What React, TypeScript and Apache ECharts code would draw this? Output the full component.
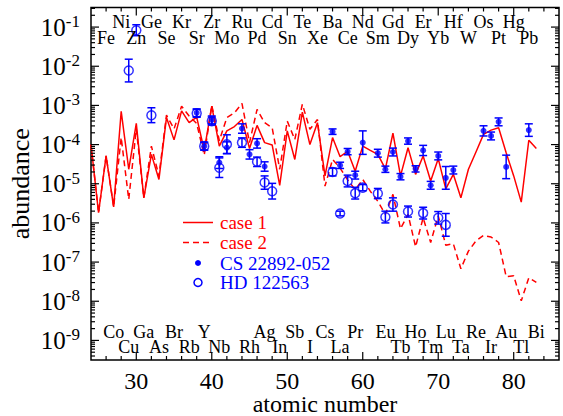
import React, { useEffect, useRef } from "react";
import * as echarts from "echarts";

// ---------- data (log10 of abundance) ----------
const modelZ = [24,25,26,27,28,29,30,31,32,33,34,35,36,37,38,39,40,41,42,43,44,45,46,47,48,49,50,51,52,53,54,55,56,57,58,59,60,61,62,63,64,65,66,67,68,69,70,71,72,73,74,75,76,77,78,79,80,81,82,83];
const case1Log = [-4.00,-5.74,-4.29,-5.59,-3.15,-4.63,-3.46,-5.36,-4.25,-4.89,-3.31,-3.88,-3.14,-3.44,-3.30,-4.15,-3.02,-4.04,-3.65,-3.54,-3.36,-4.10,-3.51,-3.95,-4.01,-5.04,-3.65,-4.38,-3.17,-4.00,-3.44,-4.80,-3.82,-4.31,-4.17,-4.68,-4.04,-4.15,-4.25,-4.62,-3.71,-4.80,-4.08,-4.76,-4.29,-4.93,-4.36,-5.13,-4.76,-5.36,-4.63,-4.19,-3.74,-3.63,-3.57,-4.21,-4.80,-5.47,-3.89,-4.10];
const case2Log = [-4.00,-5.74,-4.29,-5.59,-3.82,-5.40,-3.60,-5.36,-4.04,-4.80,-3.25,-3.60,-3.02,-3.27,-3.46,-4.27,-3.00,-3.90,-3.31,-3.19,-2.95,-3.95,-3.10,-3.44,-3.57,-4.63,-3.40,-3.87,-2.97,-3.61,-3.36,-5.06,-4.38,-4.60,-4.90,-5.15,-4.89,-5.19,-5.45,-5.78,-5.27,-6.15,-5.78,-6.61,-5.87,-6.50,-5.82,-6.57,-6.53,-7.17,-6.72,-6.46,-6.32,-6.36,-6.50,-7.37,-7.35,-7.99,-7.40,-7.52];

const csZ = [38,39,40,41,42,44,45,46,47,56,57,58,59,60,62,63,64,65,66,67,68,69,70,71,72,76,77,78,79,82];
const csLog = [-3.19,-4.04,-3.37,-4.46,-4.08,-3.59,-4.25,-3.97,-4.56,-3.67,-4.53,-4.18,-4.78,-3.95,-4.22,-4.63,-4.19,-4.82,-3.91,-4.62,-4.15,-5.04,-4.29,-4.85,-4.65,-3.65,-3.78,-3.42,-4.57,-3.63];
const csErr = [0.10,0.10,0.10,0.15,0.15,0.12,0.12,0.12,0.12,0.07,0.08,0.08,0.10,0.30,0.10,0.08,0.10,0.08,0.08,0.08,0.13,0.10,0.10,0.29,0.10,0.13,0.10,0.10,0.30,0.16];

const hdZ = [29,30,32,38,39,40,41,42,44,46,47,48,56,57,58,59,60,62,63,64,66,68,70,71];
const hdLog = [-2.11,-1.08,-3.25,-3.20,-4.04,-3.40,-4.59,-3.99,-3.95,-4.44,-4.97,-5.19,-4.70,-5.76,-4.93,-5.24,-5.10,-5.25,-5.85,-5.53,-5.71,-5.75,-5.87,-6.05];
const hdErr = [0.29,0.14,0.19,0.10,0.10,0.10,0.25,0.24,0.12,0.12,0.17,0.20,0.10,0.06,0.15,0.15,0.08,0.13,0.15,0.17,0.14,0.15,0.16,0.29];

// element labels
const topRow1 = ["Ni","Ge","Kr","Zr","Ru","Cd","Te","Ba","Nd","Gd","Er","Hf","Os","Hg"];
const topRow1Z = [28,32,36,40,44,48,52,56,60,64,68,72,76,80];
const topRow2 = ["Fe","Zn","Se","Sr","Mo","Pd","Sn","Xe","Ce","Sm","Dy","Yb","W","Pt","Pb"];
const topRow2Z = [26,30,34,38,42,46,50,54,58,62,66,70,74,78,82];
const botRow1 = ["Co","Ga","Br","Y","Ag","Sb","Cs","Pr","Eu","Ho","Lu","Re","Au","Bi"];
const botRow1Z = [27,31,35,39,47,51,55,59,63,67,71,75,79,83];
const botRow2 = ["Cu","As","Rb","Nb","Rh","In","I","La","Tb","Tm","Ta","Ir","Tl"];
const botRow2Z = [29,33,37,41,45,49,53,57,65,69,73,77,81];

// axes
const X_MIN = 24;
const X_MAX = 86;
const Y_MIN_EXP = -9.5;
const Y_MAX_EXP = -0.5;
const yDecades = [-9,-8,-7,-6,-5,-4,-3,-2,-1];
const xMajorTicks = [30,40,50,60,70,80];
const xMinorTicks = [26,28,32,34,36,38,42,44,46,48,52,54,56,58,62,64,66,68,72,74,76,78,82,84];
const yMinorMultipliers = [2,3,4,5,6,7,8,9];

const legendLabels = ["case 1","case 2","CS 22892-052","HD 122563"];

const FONT = "'Liberation Serif', 'Times New Roman', serif";
const RED = "#ff0000";
const BLUE = "#0000ff";

export default function App() {
  const ref = useRef<HTMLDivElement>(null);
  useEffect(() => {
    if (!ref.current) return;
    const chart = echarts.init(ref.current, undefined, { renderer: "svg" });
    const Y_MIN = Math.pow(10, Y_MIN_EXP);
    const Y_MAX = Math.pow(10, Y_MAX_EXP);
    const Y_MID = 1e-5;

    const line1 = modelZ.map((z, i) => [z, Math.pow(10, case1Log[i])]);
    const line2 = modelZ.map((z, i) => [z, Math.pow(10, case2Log[i])]);
    const csPts = csZ.map((z, i) => [z, Math.pow(10, csLog[i])]);
    const hdPts = hdZ.map((z, i) => [z, Math.pow(10, hdLog[i])]);
    const csBars = csZ.map((z, i) => [z, Math.pow(10, csLog[i] - csErr[i]), Math.pow(10, csLog[i] + csErr[i])]);
    const hdBars = hdZ.map((z, i) => [z, Math.pow(10, hdLog[i] - hdErr[i]), Math.pow(10, hdLog[i] + hdErr[i])]);

    const yTicks: number[][] = [];
    yDecades.forEach((e) => yTicks.push([X_MIN, Math.pow(10, e), 1]));
    for (let n = -10; n <= -1; n++) {
      yMinorMultipliers.forEach((k) => {
        const v = k * Math.pow(10, n);
        const lv = Math.log10(v);
        if (lv > Y_MIN_EXP && lv < Y_MAX_EXP) yTicks.push([X_MIN, v, 0]);
      });
    }
    const xTicks: number[][] = [];
    xMajorTicks.forEach((z) => xTicks.push([z, Y_MID, 1]));
    xMinorTicks.forEach((z) => xTicks.push([z, Y_MID, 0]));

    const labelItems: any[] = [];
    topRow1.forEach((s, i) => labelItems.push({ value: [topRow1Z[i], Y_MID], name: s, row: 0 }));
    topRow2.forEach((s, i) => labelItems.push({ value: [topRow2Z[i], Y_MID], name: s, row: 1 }));
    botRow1.forEach((s, i) => labelItems.push({ value: [botRow1Z[i], Y_MID], name: s, row: 2 }));
    botRow2.forEach((s, i) => labelItems.push({ value: [botRow2Z[i], Y_MID], name: s, row: 3 }));

    const tickStyle = { stroke: "#000", lineWidth: 1.2 };

    const errRender = (params: any, api: any) => {
      const z = api.value(0);
      const p1 = api.coord([z, api.value(1)]);
      const p2 = api.coord([z, api.value(2)]);
      const st = { stroke: BLUE, lineWidth: 1.5 };
      return {
        type: "group",
        children: [
          { type: "line", shape: { x1: p1[0], y1: p1[1], x2: p2[0], y2: p2[1] }, style: st },
          { type: "line", shape: { x1: p1[0] - 4, y1: p1[1], x2: p1[0] + 4, y2: p1[1] }, style: st },
          { type: "line", shape: { x1: p2[0] - 4, y1: p2[1], x2: p2[0] + 4, y2: p2[1] }, style: st },
        ],
      };
    };

    const option: any = {
      animation: false,
      backgroundColor: "#fff",
      grid: { left: 91, right: 4, top: 7.5, bottom: 56, show: true, borderColor: "#000", borderWidth: 1.5, containLabel: false, outerBoundsMode: "none" },
      xAxis: {
        type: "value",
        min: X_MIN,
        max: X_MAX,
        splitNumber: 6,
        name: "atomic number",
        nameLocation: "middle",
        nameGap: 32,
        nameMoveOverlap: false,
        nameTextStyle: { fontFamily: FONT, fontSize: 24, color: "#000", lineHeight: 24 },
        axisLine: { show: false },
        axisTick: { show: false },
        splitLine: { show: false },
        axisLabel: { fontFamily: FONT, fontSize: 24, color: "#000", margin: 9, lineHeight: 24, showMinLabel: false, showMaxLabel: false },
      },
      yAxis: {
        type: "log",
        logBase: 10,
        min: Y_MIN,
        max: Y_MAX,
        splitNumber: 9,
        name: "abundance",
        nameLocation: "middle",
        nameGap: 58,
        nameMoveOverlap: false,
        nameTextStyle: { fontFamily: FONT, fontSize: 26, color: "#000" },
        axisLine: { show: false },
        axisTick: { show: false },
        splitLine: { show: false },
        axisLabel: {
          margin: 11,
          showMinLabel: false,
          showMaxLabel: false,
          formatter: (v: number) => `{b|10}{s|${Math.round(Math.log10(v))}}`,
          rich: {
            b: { fontFamily: FONT, fontSize: 25, color: "#000", lineHeight: 28 },
            s: { fontFamily: FONT, fontSize: 17, color: "#000", verticalAlign: "top", lineHeight: 17 },
          },
        },
      },
      graphic: [
        { type: "line", shape: { x1: 183, y1: 222.5, x2: 213, y2: 222.5 }, style: { stroke: RED, lineWidth: 1.5 } },
        { type: "text", x: 220, y: 222.5, style: { text: legendLabels[0], fill: RED, font: `19px ${FONT}`, verticalAlign: "middle" } },
        { type: "line", shape: { x1: 183, y1: 242.5, x2: 213, y2: 242.5 }, style: { stroke: RED, lineWidth: 1.5, lineDash: [6, 4] } },
        { type: "text", x: 220, y: 242.5, style: { text: legendLabels[1], fill: RED, font: `19px ${FONT}`, verticalAlign: "middle" } },
        { type: "circle", shape: { cx: 198, cy: 263, r: 3 }, style: { fill: BLUE } },
        { type: "text", x: 220, y: 263, style: { text: legendLabels[2], fill: BLUE, font: `19px ${FONT}`, verticalAlign: "middle" } },
        { type: "circle", shape: { cx: 198, cy: 282.5, r: 4 }, style: { fill: "none", stroke: BLUE, lineWidth: 1.5 } },
        { type: "text", x: 220, y: 282.5, style: { text: legendLabels[3], fill: BLUE, font: `19px ${FONT}`, verticalAlign: "middle" } },
      ],
      series: [
        {
          type: "line",
          name: "case 1",
          data: line1,
          showSymbol: false,
          symbol: "none",
          lineStyle: { color: RED, width: 1.5 },
          z: 2,
        },
        {
          type: "line",
          name: "case 2",
          data: line2,
          showSymbol: false,
          symbol: "none",
          lineStyle: { color: RED, width: 1.5, type: [6, 4] },
          z: 2,
        },
        {
          type: "custom",
          name: "hdErr",
          coordinateSystem: "cartesian2d",
          data: hdBars,
          encode: { x: 0, y: [1, 2] },
          renderItem: errRender,
          silent: true,
          z: 3,
        },
        {
          type: "custom",
          name: "csErr",
          coordinateSystem: "cartesian2d",
          data: csBars,
          encode: { x: 0, y: [1, 2] },
          renderItem: errRender,
          silent: true,
          z: 3,
        },
        {
          type: "scatter",
          name: "HD 122563",
          data: hdPts,
          symbol: "circle",
          symbolSize: 9,
          itemStyle: { color: "rgba(0,0,0,0)", borderColor: BLUE, borderWidth: 1.5 },
          z: 4,
        },
        {
          type: "scatter",
          name: "CS 22892-052",
          data: csPts,
          symbol: "circle",
          symbolSize: 6,
          itemStyle: { color: BLUE },
          z: 5,
        },
        {
          type: "custom",
          name: "yTicks",
          coordinateSystem: "cartesian2d",
          data: yTicks,
          encode: { x: 0, y: 1 },
          silent: true,
          clip: false,
          z: 6,
          renderItem: (params: any, api: any) => {
            const v = api.value(1);
            const len = api.value(2) === 1 ? 8 : 4;
            const l = api.coord([X_MIN, v]);
            const r = api.coord([X_MAX, v]);
            return {
              type: "group",
              children: [
                { type: "line", shape: { x1: l[0], y1: l[1], x2: l[0] + len, y2: l[1] }, style: tickStyle },
                { type: "line", shape: { x1: r[0], y1: r[1], x2: r[0] - len, y2: r[1] }, style: tickStyle },
              ],
            };
          },
        },
        {
          type: "custom",
          name: "xTicks",
          coordinateSystem: "cartesian2d",
          data: xTicks,
          encode: { x: 0, y: 1 },
          silent: true,
          clip: false,
          z: 6,
          renderItem: (params: any, api: any) => {
            const z = api.value(0);
            const len = api.value(2) === 1 ? 8 : 4;
            const b = api.coord([z, Y_MIN]);
            const t = api.coord([z, Y_MAX]);
            return {
              type: "group",
              children: [
                { type: "line", shape: { x1: b[0], y1: b[1], x2: b[0], y2: b[1] - len }, style: tickStyle },
                { type: "line", shape: { x1: t[0], y1: t[1], x2: t[0], y2: t[1] + len }, style: tickStyle },
              ],
            };
          },
        },
        {
          type: "custom",
          name: "elements",
          coordinateSystem: "cartesian2d",
          data: labelItems,
          encode: { x: 0, y: 1 },
          silent: true,
          clip: false,
          z: 7,
          renderItem: (params: any, api: any) => {
            const item = labelItems[params.dataIndex];
            const z = api.value(0);
            const t = api.coord([z, Y_MAX]);
            const b = api.coord([z, Y_MIN]);
            const offs = [t[1] + 14, t[1] + 30, b[1] - 28, b[1] - 13];
            return {
              type: "text",
              x: t[0],
              y: offs[item.row],
              style: { text: item.name, fill: "#000", font: `18px ${FONT}`, align: "center", verticalAlign: "middle" },
            };
          },
        },
      ],
    };
    chart.setOption(option);
    return () => chart.dispose();
  }, []);
  return <div ref={ref} style={{ position: "absolute", left: 0, top: 0, width: 563, height: 416 }} />;
}
